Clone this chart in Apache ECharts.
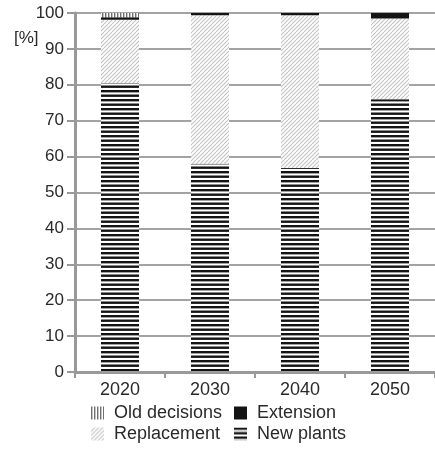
<!DOCTYPE html>
<html>
<head>
<meta charset="utf-8">
<script src="https://cdn.jsdelivr.net/npm/echarts@6/dist/echarts.min.js"></script>
<style>
html,body{margin:0;padding:0;background:#fff;}
#c{width:435px;height:452px;}
</style>
</head>
<body>
<div id="c"></div>
<script>
// Data
var categories = ['2020', '2030', '2040', '2050'];
var newPlants   = [80.5, 58, 56.8, 76];
var replacement = [17.6, 41.4, 42.6, 22.5];
var extension   = [0.7, 0.6, 0.6, 1.5];
var oldDecisions = [1.2, 0, 0, 0];
var yTicks = [0, 10, 20, 30, 40, 50, 60, 70, 80, 90, 100];

function makePattern(w, h, draw) {
  var c = document.createElement('canvas');
  c.width = w; c.height = h;
  var ctx = c.getContext('2d');
  ctx.fillStyle = '#ffffff';
  ctx.fillRect(0, 0, w, h);
  draw(ctx, w, h);
  return { image: c, repeat: 'repeat' };
}

var patNew = makePattern(10, 9, function (ctx, w) {
  ctx.fillStyle = '#141414';
  ctx.fillRect(0, 0, w, 2.4);
  ctx.fillRect(0, 4.5, w, 2.4);
});
var patRep = makePattern(8, 8, function (ctx) {
  ctx.strokeStyle = '#c4c4c4';
  ctx.lineWidth = 1.1;
  ctx.beginPath();
  var offs = [-8, -4, 0, 4, 8, 12];
  for (var i = 0; i < offs.length; i++) {
    var o = offs[i];
    ctx.moveTo(o, 8);
    ctx.lineTo(o + 8, 0);
  }
  ctx.stroke();
});
var patOld = makePattern(3, 6, function (ctx) {
  ctx.fillStyle = '#6e6e6e';
  ctx.fillRect(0, 0, 1.4, 6);
});
var colExt = '#141414';

var chart = echarts.init(document.getElementById('c'), null, { renderer: 'canvas' });

var labelFont = 'Liberation Sans, Arial, Helvetica, sans-serif';

chart.setOption({
  backgroundColor: '#ffffff',
  animation: false,
  grid: { left: 75, right: 0, top: 13, bottom: 80, containLabel: false },
  xAxis: {
    type: 'category',
    data: categories,
    axisLine: { show: true, lineStyle: { color: '#999', width: 3 } },
    axisTick: { show: true, alignWithLabel: false, length: 6, lineStyle: { color: '#999', width: 2 } },
    axisLabel: { color: '#2a2a2a', fontSize: 18, fontFamily: labelFont, margin: 9 },
    splitLine: { show: false }
  },
  yAxis: {
    type: 'value',
    min: 0, max: 100, interval: 10,
    axisLine: { show: true, lineStyle: { color: '#999', width: 3 } },
    axisTick: { show: true, length: 8, lineStyle: { color: '#999', width: 2 } },
    axisLabel: { color: '#2a2a2a', fontSize: 17, fontFamily: labelFont, margin: 11,
      formatter: function (v) { return yTicks.indexOf(v) >= 0 ? String(v) : ''; } },
    splitLine: { show: true, lineStyle: { color: '#a3a3a3', width: 2 } }
  },
  graphic: [{
    type: 'text', left: 14, top: 30,
    style: { text: '[%]', fontSize: 17, fontFamily: labelFont, fill: '#2a2a2a' }
  }],
  legend: [{
    orient: 'vertical', left: 86, top: 399, itemGap: 3,
    itemWidth: 13, itemHeight: 13,
    icon: 'rect',
    textStyle: { fontSize: 18, fontFamily: labelFont, color: '#2a2a2a', padding: [0, 0, 0, 5] },
    data: ['Old decisions', 'Replacement']
  }, {
    orient: 'vertical', left: 229, top: 399, itemGap: 3,
    itemWidth: 13, itemHeight: 13,
    icon: 'rect',
    textStyle: { fontSize: 18, fontFamily: labelFont, color: '#2a2a2a', padding: [0, 0, 0, 5] },
    data: ['Extension', 'New plants']
  }],
  series: [
    { name: 'New plants', type: 'bar', stack: 's', barWidth: 38, data: newPlants,
      itemStyle: { color: patNew } },
    { name: 'Replacement', type: 'bar', stack: 's', barWidth: 38, data: replacement,
      itemStyle: { color: patRep } },
    { name: 'Extension', type: 'bar', stack: 's', barWidth: 38, data: extension,
      itemStyle: { color: colExt } },
    { name: 'Old decisions', type: 'bar', stack: 's', barWidth: 38, data: oldDecisions,
      itemStyle: { color: patOld } }
  ]
});
</script>
</body>
</html>
